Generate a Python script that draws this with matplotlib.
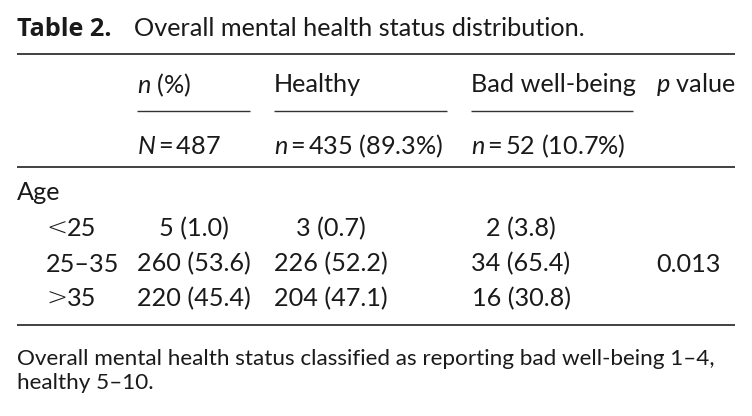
import matplotlib
matplotlib.use("Agg")
import matplotlib.pyplot as plt

plt.rcParams['font.family'] = ['Lato', 'DejaVu Sans']
plt.rcParams['mathtext.fontset'] = 'custom'
plt.rcParams['mathtext.rm'] = 'Lato'
plt.rcParams['mathtext.it'] = 'Lato:italic'

# ---- data ----
title_bold = "Table 2."
title_rest = "Overall mental health status distribution."
col_headers = ["$n$ (%)", "Healthy", "Bad well-being", "$p$ value"]
col_totals = ["$N$\u2009=\u2009487", "$n$\u2009=\u2009435 (89.3%)", "$n$\u2009=\u200952 (10.7%)", ""]
group_label = "Age"
row_signs = ["<", "", ">"]
row_labels = ["25", "25–35", "35"]
n_total = ["5 (1.0)", "260 (53.6)", "220 (45.4)"]
n_healthy = ["3 (0.7)", "226 (52.2)", "204 (47.1)"]
n_bad = ["2 (3.8)", "34 (65.4)", "16 (30.8)"]
p_values = ["", "0.013", ""]
footnote = ("Overall mental health status classified as reporting bad well-being 1–4,\n"
            "healthy 5–10.")

W, H = 752, 416
fig = plt.figure(figsize=(W / 100, H / 100), dpi=100)
ax = fig.add_axes([0, 0, 1, 1])
ax.set_xlim(0, W)
ax.set_ylim(H, 0)
ax.axis('off')

TXT = '#1a1a1a'
LINE = '#333333'
FS = 18.2

# title
ax.text(17, 29, title_bold, fontsize=FS, fontweight='bold', color=TXT, va='center', ha='left',
        family=['Open Sans', 'DejaVu Sans'])
ax.text(134, 29, title_rest, fontsize=FS, color=TXT, va='center', ha='left')

# rules
for yy in (54, 167, 325):
    ax.plot([17, 735], [yy, yy], color=LINE, lw=1.3, solid_capstyle='butt')
sub_rules = [(137, 250), (274, 447), (471, 633)]
for x0, x1 in sub_rules:
    ax.plot([x0, x1], [111, 111], color=LINE, lw=1.0, solid_capstyle='butt')

# headers
head_x = [137, 274, 471, 656]
for x, h in zip(head_x, col_headers):
    ax.text(x, 85, h, fontsize=FS, color=TXT, va='center', ha='left')
for x, h in zip(head_x, col_totals):
    if h:
        ax.text(x, 146, h, fontsize=FS, color=TXT, va='center', ha='left')

# body
ax.text(17, 193, group_label, fontsize=FS, color=TXT, va='center', ha='left')
row_y = [229, 264, 299]
for i, y in enumerate(row_y):
    if row_signs[i]:
        s = ax.text(46, y, row_signs[i], fontsize=FS, color=TXT, va='center', ha='left',
                    family='DejaVu Sans', fontweight='light')
        ax.annotate(row_labels[i], xy=(1, 0.5), xycoords=s, xytext=(0, 0),
                    textcoords='offset points', fontsize=FS, color=TXT, va='center', ha='left')
    else:
        ax.text(46, y, row_labels[i], fontsize=FS, color=TXT, va='center', ha='left')
    ax.text(194, y, n_total[i], fontsize=FS, color=TXT, va='center', ha='center')
    ax.text(331, y, n_healthy[i], fontsize=FS, color=TXT, va='center', ha='center')
    ax.text(521, y, n_bad[i], fontsize=FS, color=TXT, va='center', ha='center')
    if p_values[i]:
        ax.text(656, y, p_values[i], fontsize=FS, color=TXT, va='center', ha='left')

# footnote
ax.text(17, 371, footnote, fontsize=16.2, color=TXT, va='center', ha='left', linespacing=1.25)

fig.savefig("out.png", dpi=100)
